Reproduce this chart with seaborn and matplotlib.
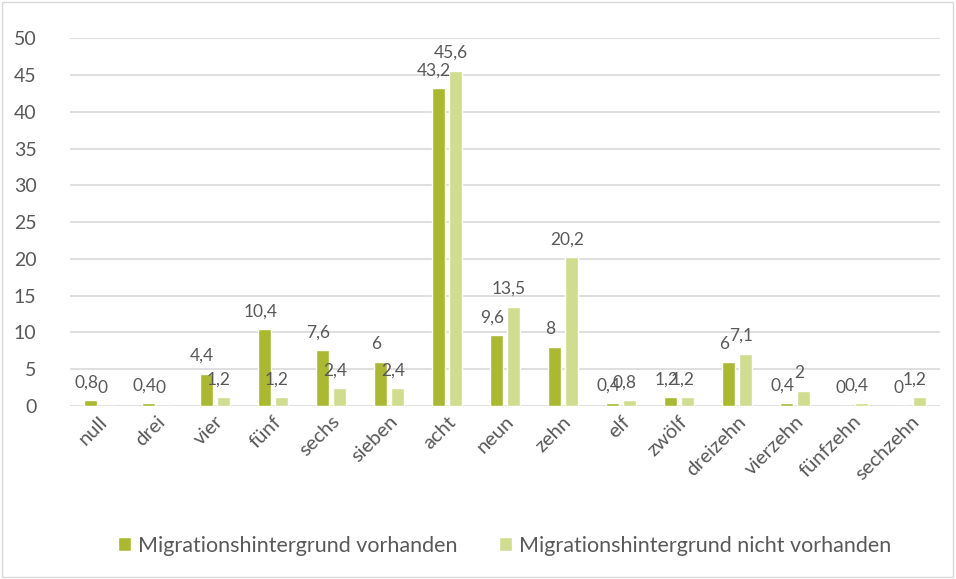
import pandas as pd
import matplotlib
matplotlib.use("Agg")
import matplotlib.pyplot as plt
import seaborn as sns
from matplotlib.patches import Rectangle

categories = ["null", "drei", "vier", "fünf", "sechs", "sieben", "acht", "neun",
              "zehn", "elf", "zwölf", "dreizehn", "vierzehn", "fünfzehn", "sechzehn"]
mit = [0.8, 0.4, 4.4, 10.4, 7.6, 6, 43.2, 9.6, 8, 0.4, 1.2, 6, 0.4, 0, 0]
ohne = [0, 0, 1.2, 1.2, 2.4, 2.4, 45.6, 13.5, 20.2, 0.8, 1.2, 7.1, 2, 0.4, 1.2]
series = ["Migrationshintergrund vorhanden", "Migrationshintergrund nicht vorhanden"]
colors = ["#aab832", "#d0dd8e"]

df = pd.DataFrame({
    "kat": categories * 2,
    "wert": mit + ohne,
    "gruppe": [series[0]] * len(categories) + [series[1]] * len(categories),
})

sns.set_style("white")
plt.rcParams["font.family"] = ["Lato", "DejaVu Sans"]
txt = "#595959"

fig = plt.figure(figsize=(9.56, 5.79), dpi=100)
ax = fig.add_axes([0.073, 0.299, 0.910, 0.635])

sns.barplot(data=df, x="kat", y="wert", hue="gruppe", hue_order=series,
            palette=colors, width=0.576, gap=0.22, ax=ax, legend=True,
            saturation=1)

ax.set_ylim(0, 50)
ax.set_yticks(range(0, 51, 5))
ax.yaxis.grid(True, color="#d9d9d9", linewidth=1.2)
ax.set_axisbelow(True)
for s in ax.spines.values():
    s.set_visible(False)
ax.set_xlabel("")
ax.set_ylabel("")
ax.tick_params(axis="y", labelsize=14, colors=txt, length=0, pad=24)
ax.tick_params(axis="x", labelsize=14.5, colors=txt, length=0, pad=5)
plt.setp(ax.get_xticklabels(), rotation=45, ha="right", rotation_mode="anchor")

def fmt(v):
    return (f"{v:g}").replace(".", ",")

for cont in ax.containers:
    for bar in cont:
        h = bar.get_height()
        cx = bar.get_x() + bar.get_width() / 2
        ax.annotate(fmt(h), (cx, h), xytext=(-3, 7), textcoords="offset points",
                    ha="center", va="bottom", fontsize=12.5, color=txt)

leg = ax.legend(loc="upper center", bbox_to_anchor=(0.5, -0.3), ncol=2,
                frameon=False, fontsize=15.5, handlelength=0.6, handleheight=0.6,
                columnspacing=1.9, handletextpad=0.35)
for t in leg.get_texts():
    t.set_color(txt)

fig.patches.append(Rectangle((0.002, 0.003), 0.995, 0.994, transform=fig.transFigure,
                             fill=False, edgecolor="#d9d9d9", linewidth=1))

fig.savefig("out.png", dpi=100)
